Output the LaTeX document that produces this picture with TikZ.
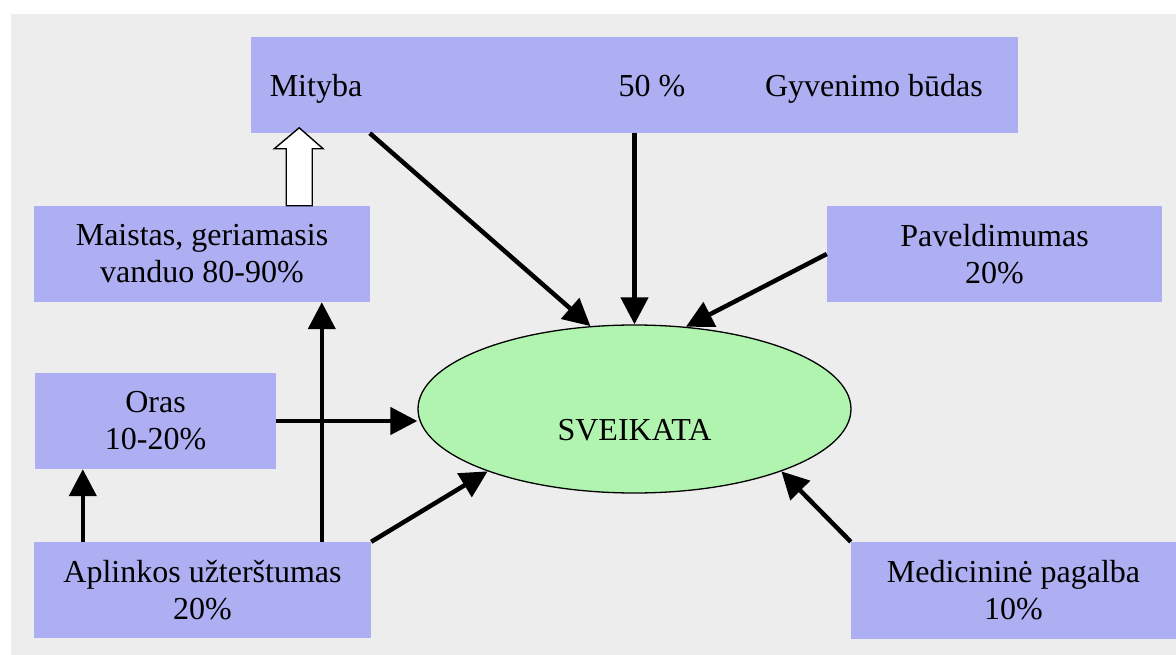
\documentclass[tikz,border=0pt]{standalone}
\usepackage{fontspec}
\setmainfont{Liberation Serif}
\usetikzlibrary{arrows.meta,shapes.geometric}
\definecolor{bg}{RGB}{237,237,237}
\definecolor{boxblue}{RGB}{174,174,242}
\definecolor{hubgreen}{RGB}{176,244,176}

\begin{document}
\begin{tikzpicture}[x=1pt,y=-1pt,
  txt/.style={font=\fontsize{32}{37}\selectfont, align=center, inner sep=0pt},
  factor/.style={txt, fill=boxblue, minimum height=96pt, minimum width=#1},
  hub/.style={ellipse, draw=black, line width=1.3pt, fill=hubgreen,
    minimum width=433pt, minimum height=168pt, inner sep=0pt},
  link/.style={line width=4.5pt, -{Triangle[length=27pt,width=27pt]}},
  hollow/.style={draw=black, fill=white, line width=1.4pt, line join=miter}]

  % canvas
  \useasboundingbox (0,0) rectangle (1176,655);
  \fill[bg] (11,14) rectangle (1176,655);

  % factor boxes
  \node[factor=767pt] (top) at (634.5,85) {};
  \node[txt, anchor=base] (mit) at (316,97) {Mityba};
  \node[txt, anchor=base] (pct) at (652,97) {50 \%};
  \node[txt, anchor=base] (gyv) at (874,97) {Gyvenimo būdas};

  \node[factor=336pt] (mai) at (202,254) {Maistas, geriamasis\\vanduo 80-90\%};
  \node[factor=335pt] (pav) at (994.5,254) {Paveldimumas\\20\%};
  \node[factor=241pt] (oras) at (155.5,421) {Oras\\10-20\%};
  \node[factor=337pt] (apl) at (202.5,590) {Aplinkos užterštumas\\20\%};
  \node[factor=325pt, minimum height=97pt] (med) at (1013.5,590.5) {Medicininė pagalba\\10\%};

  % central ellipse
  \node[hub] (sv) at (634.5,409) {};
  \node[txt, anchor=base] (svt) at (634.5,440) {SVEIKATA};

  % influences on health
  \draw[link] ([xshift=119pt]top.south west) -- (sv.118);
  \draw[link] (top.south) -- (sv.north);
  \draw[link] (pav.west) -- (sv.58);
  \draw[link] (oras.east) -- (oras.east -| sv.west);
  \draw[link] (apl.north east) -- (sv.203);
  \draw[link] (med.north west) -- (sv.337);

  % pollution feeding air and food
  \coordinate (a1) at ([xshift=49pt]apl.north west);
  \coordinate (a2) at ([xshift=288pt]apl.north west);
  \draw[link] (a1) -- (a1 |- oras.south);
  \draw[link] (a2) -- (a2 |- mai.south);

  % hollow arrow from food to nutrition
  \coordinate (hb) at ([xshift=-71pt]mai.north east);
  \draw[hollow] (hb) ++(-13,0) -- ++(0,-57) -- ++(-12,0) -- ++(25,-21)
    -- ++(24,21) -- ++(-11,0) -- ++(0,57) -- cycle;
\end{tikzpicture}
\end{document}
